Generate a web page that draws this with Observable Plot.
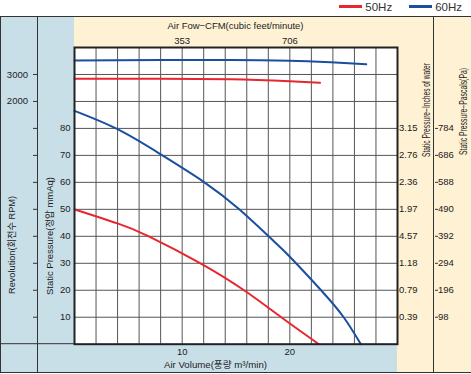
<!DOCTYPE html>
<html><head><meta charset="utf-8">
<script src="https://cdn.jsdelivr.net/npm/d3@7"></script>
<script src="https://cdn.jsdelivr.net/npm/@observablehq/plot@0.6"></script>
<style>
body{margin:0;background:#fff;font-family:"Liberation Sans",Arial,"Noto Sans CJK KR",sans-serif;}
#legend{display:flex;justify-content:flex-end;align-items:center;height:13px;margin-bottom:3px;width:471px;box-sizing:border-box;padding-right:9px;font-size:11.5px;color:#333;}
#legend .sw{display:inline-block;width:23px;height:3px;margin-right:3px;}
#legend .item{display:flex;align-items:center;margin-left:17px;}
#chart svg{display:block;}
</style></head><body>
<div id="legend"></div>
<div id="chart"></div>
<script>
// ---- data ----
const seriesNames = ["50Hz", "60Hz"];
const seriesColors = ["#e8262e", "#1a4fa0"];

// Static pressure curves (air volume m3/min -> mmAq)
const airVolume50 = [0, 4, 6.9, 11.7, 15.75, 19.2, 22.7];
const pressure50  = [50, 44.8, 40, 30, 20, 10, 0];
const airVolume60 = [0, 4, 8, 12, 15.3, 18.4, 20, 22.9, 25, 26.6];
const pressure60  = [86.5, 79.7, 70.4, 60.2, 50, 38.6, 32.4, 20, 10, 0];

// Revolution curves (air volume m3/min -> RPM)
const rpmVolume50 = [0, 8, 14.5, 20, 22.8];
const rpm50       = [2840, 2845, 2825, 2750, 2690];
const rpmVolume60 = [0, 8, 14.5, 20, 23.8, 27.1];
const rpm60       = [3520, 3540, 3540, 3510, 3450, 3380];

// Axis ticks / labels
const mmAqTicks   = [10, 20, 30, 40, 50, 60, 70, 80];
const inchLabels  = ["0.39", "0.79", "1.18", "4.57", "1.97", "2.36", "2.76", "3.15"];
const paLabels    = ["98", "196", "294", "392", "490", "588", "686", "784"];
const rpmTickVals = [2000, 3000];
const rpmTickLabels = ["2000", "3000"];
const volumeTicks = [10, 20];
const cfmLabels   = ["353", "706"];

// Titles
const titleTop    = "Air Fow\u2212CFM(cubic feet/minute)";
const titleBottom = "Air Volume(풍량 m\u00b3/min)";
const titlePress  = "Static Pressure(정압 mmAq)";
const titleRev    = "Revolution(회전수 RPM)";
const titleInch   = "Static Pressure\u2212Inches of water";
const titlePa     = "Static Pressure\u2212Pascals(Pa)";

// ---- legend ----
const leg = document.getElementById("legend");
seriesNames.forEach((n, i) => {
  const it = document.createElement("span");
  it.className = "item";
  it.innerHTML = `<span class="sw" style="background:${seriesColors[i]}"></span><span>${n}</span>`;
  leg.appendChild(it);
});

// ---- build tables ----
// RPM shares the left frame with mmAq: 3000 rpm sits on the 100 mmAq line, 1000 rpm per 10 mmAq
const rpmToY = r => 100 + (r - 3000) / 100;
const pRows = [];
airVolume50.forEach((q, i) => pRows.push({q, p: pressure50[i], s: seriesNames[0]}));
airVolume60.forEach((q, i) => pRows.push({q, p: pressure60[i], s: seriesNames[1]}));
const rRows = [];
rpmVolume50.forEach((q, i) => rRows.push({q, p: rpmToY(rpm50[i]), s: seriesNames[0]}));
rpmVolume60.forEach((q, i) => rRows.push({q, p: rpmToY(rpm60[i]), s: seriesNames[1]}));

const allYTicks = d3.range(10, 110, 10);
const rpmTickY = rpmTickVals.map(rpmToY);

const W = 471, H = 358, mL = 74, mR = 74, mT = 31, mB = 30.3;
const FONT = '"Liberation Sans", Arial, "Noto Sans CJK KR", sans-serif';

const chart = Plot.plot({
  width: W, height: H,
  marginLeft: mL, marginRight: mR, marginTop: mT, marginBottom: mB,
  style: {fontFamily: FONT, fontSize: "9.5px", color: "#222", background: "white"},
  x: {domain: [0, 30]},
  y: {domain: [0, 110]},
  color: {domain: seriesNames, range: seriesColors},
  marks: [
    Plot.gridX(d3.range(2, 30, 2), {stroke: "#555", strokeOpacity: 1, strokeWidth: 1}),
    Plot.gridY(allYTicks, {stroke: "#555", strokeOpacity: 1, strokeWidth: 1}),
    Plot.line(pRows, {x: "q", y: "p", z: "s", stroke: "s", strokeWidth: 2, curve: "natural"}),
    Plot.line(rRows, {x: "q", y: "p", z: "s", stroke: "s", strokeWidth: 2, curve: "monotone-x"}),
    Plot.frame({stroke: "#222", strokeWidth: 2}),
    Plot.axisY(mmAqTicks, {anchor: "left", tickSize: 0, tickPadding: 4, label: null, tickFormat: d => String(d)}),
    Plot.axisY(allYTicks, {anchor: "left", tickSize: 4, tickPadding: 5.5, dx: -37, label: null, stroke: "#333",
      tickFormat: d => { const k = rpmTickY.indexOf(d); return k >= 0 ? rpmTickLabels[k] : ""; }}),
    Plot.axisY(mmAqTicks, {anchor: "right", tickSize: 0, tickPadding: 1.5, label: null,
      tickFormat: d => inchLabels[mmAqTicks.indexOf(d)]}),
    Plot.axisY(mmAqTicks, {anchor: "right", tickSize: 3, tickPadding: 0.5, dx: 37, label: null, stroke: "#333",
      tickFormat: d => paLabels[mmAqTicks.indexOf(d)]}),
    Plot.axisX(volumeTicks, {anchor: "top", tickSize: 0, tickPadding: 3.6, label: null,
      tickFormat: d => cfmLabels[volumeTicks.indexOf(d)]}),
    Plot.axisX(volumeTicks, {anchor: "bottom", tickSize: 0, tickPadding: 4, label: null, tickFormat: d => String(d)})
  ]
});

// background panels and borders behind the plot
const svg = d3.select(chart);
const bg = svg.insert("g", ":first-child");
const plotBottom = H - mB, plotRight = W - mR;
bg.append("rect").attr("x", 0).attr("y", 0).attr("width", W).attr("height", H).attr("fill", "#fff");
bg.append("rect").attr("x", 0).attr("y", 0).attr("width", mL).attr("height", 357).attr("fill", "#c9dfe8");
bg.append("rect").attr("x", 0).attr("y", plotBottom).attr("width", plotRight).attr("height", 357 - plotBottom).attr("fill", "#c9dfe8");
bg.append("rect").attr("x", mL).attr("y", 0).attr("width", W - mL).attr("height", mT).attr("fill", "#fff2d4");
bg.append("rect").attr("x", plotRight).attr("y", 0).attr("width", mR).attr("height", 357).attr("fill", "#fff2d4");
const ln = (x1, y1, x2, y2) => bg.append("line").attr("x1", x1).attr("y1", y1).attr("x2", x2).attr("y2", y2).attr("stroke", "#333").attr("stroke-width", 1);
ln(0, 0.5, W, 0.5);
ln(0, 356.5, W, 356.5);
ln(0.5, 0, 0.5, 357);
ln(37.5, 0, 37.5, 357);
ln(433.5, 0, 433.5, 357);
ln(0, plotBottom, mL, plotBottom);

// titles
const tg = svg.append("g").attr("font-family", FONT).attr("font-size", "9.5px").attr("fill", "#222")
  .attr("text-anchor", "middle").attr("dominant-baseline", "central");
const title = (t, cx, cy, rot, len, fs) => {
  const e = tg.append("text").attr("transform", `translate(${cx},${cy})${rot ? " rotate(-90)" : ""}`).text(t);
  if (fs) e.attr("font-size", fs);
  if (len) e.attr("textLength", len).attr("lengthAdjust", "spacingAndGlyphs");
};
title(titleTop, (mL + plotRight) / 2, 9.5, false, 136);
title(titleBottom, 215.5, 348, false, 103);
title(titlePress, 49.5, 220, true, 118);
title(titleRev, 11, 229, true, 98);
title(titleInch, 426.5, 94, true, 94, "10px");
title(titlePa, 463, 95.5, true, 87, "10px");

document.getElementById("chart").appendChild(chart);
</script>
</body></html>
